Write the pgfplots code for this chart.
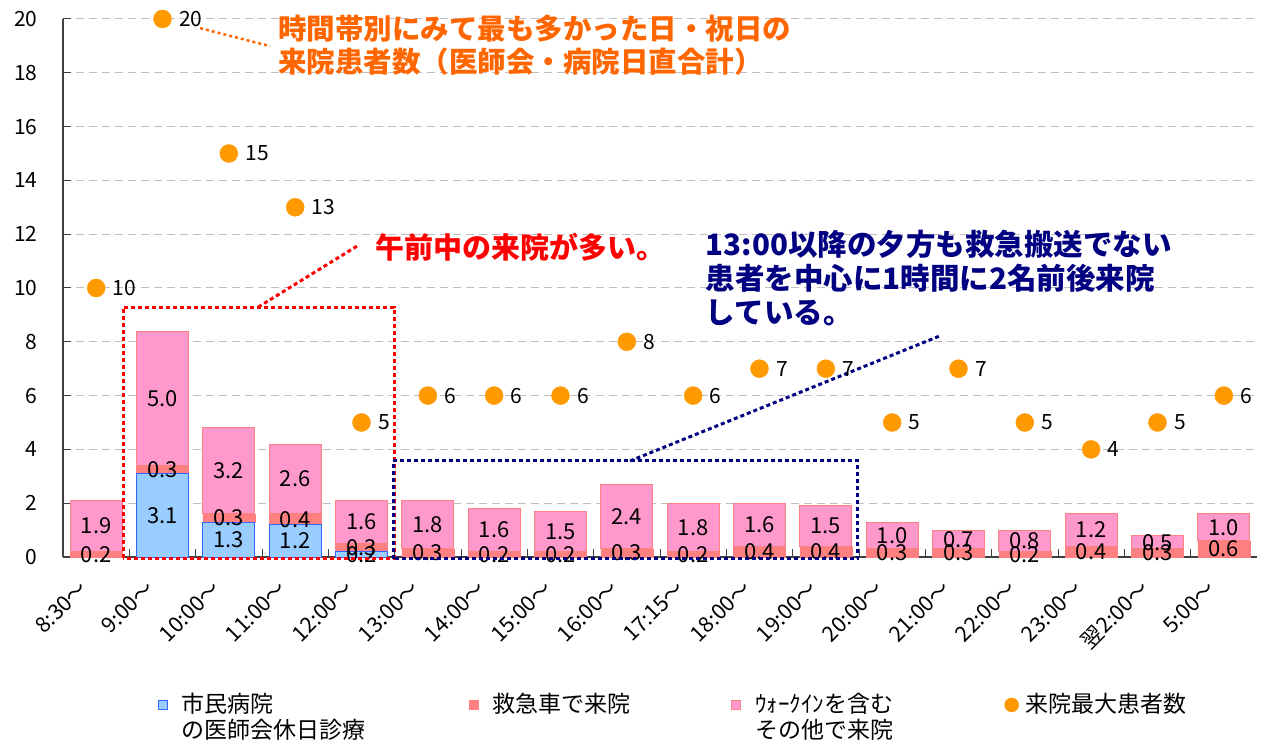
\documentclass[border=0pt]{standalone}
\usepackage{pgfplots}
\pgfplotsset{compat=1.18}
\usepackage{fontspec}
\setmainfont{Noto Sans CJK JP}
\definecolor{cblue}{HTML}{99CCFF}
\definecolor{cblueb}{HTML}{3366FF}
\definecolor{cred}{HTML}{FF8080}
\definecolor{cpink}{HTML}{FF99CC}
\definecolor{cpinkb}{HTML}{FF8080}
\definecolor{corange}{HTML}{FF9900}
\definecolor{ctor}{HTML}{FF6600}
\definecolor{cnavy}{HTML}{000080}
\definecolor{cgrid}{HTML}{BFBFBF}
\definecolor{caxis}{HTML}{404040}
\newcommand{\fs}[2]{\fontsize{#1bp}{#2bp}\selectfont}
\pgfplotsset{
  sqlegend/.style={legend image code/.code={\draw[##1,/tikz/.cd] (0bp,3bp) rectangle (9bp,12bp);}},
  dotlegend/.style={legend image code/.code={\path (0bp,3bp) rectangle (0bp,12bp); \fill[corange,overlay] (0bp,7.5bp) circle (7bp);}},
}
\begin{document}
\begin{tikzpicture}
\useasboundingbox (-63bp,-185bp) rectangle (1200bp,557bp);
\begin{axis}[
  at={(0bp,0bp)}, anchor=south west,
  scale only axis, width=1194bp, height=538bp,
  xmin=-0.5, xmax=17.5, ymin=0, ymax=20,
  ybar stacked, bar width=52bp,
  clip=false,
  axis x line*=bottom, axis y line*=left,
  axis line style={draw=caxis, line width=1.5bp},
  tick align=inside,
  xtick={0,...,17},
  xticklabels={8:30〜,9:00〜,10:00〜,11:00〜,12:00〜,13:00〜,14:00〜,15:00〜,16:00〜,17:15〜,18:00〜,19:00〜,20:00〜,21:00〜,22:00〜,23:00〜,翌2:00〜,5:00〜},
  major x tick style={draw=none},
  minor xtick={0.5,1.5,...,16.5},
  minor x tick style={draw=caxis, line width=1bp},
  minor tick length=8bp,
  major tick length=8bp,
  ytick={0,2,...,20},
  y tick style={draw=caxis, line width=1bp},
  ymajorgrids,
  major grid style={draw=cgrid, dash pattern=on 8bp off 5bp, line width=1bp},
  /pgf/number format/assume math mode=true,
  yticklabel style={font=\fs{21}{21}, xshift=-22bp},
  xticklabel style={font=\fs{21.5}{21.5}, anchor=east, xshift=-10bp, yshift=-25bp, rotate=45},
  point meta=explicit symbolic,
  nodes near coords,
  every node near coord/.append style={font=\fs{22}{22}, text=black, anchor=center},
  legend columns=4,
  legend style={at={(0,0)}, anchor=north west, xshift=95bp, yshift=-134bp,
    draw=none, fill=none, inner sep=0pt, outer sep=0pt, font=\fs{23}{26},
    cells={anchor=base west, inner sep=0pt},
    /tikz/every odd column/.append style={column sep=12bp}},
]
\addplot[fill=cblue, draw=cblueb, line width=1bp, sqlegend]
  coordinates {(0,0)[] (1,3.1)[3.1] (2,1.3)[1.3] (3,1.2)[1.2] (4,0.2)[0.2] (5,0)[] (6,0)[] (7,0)[] (8,0)[] (9,0)[] (10,0)[] (11,0)[] (12,0)[] (13,0)[] (14,0)[] (15,0)[] (16,0)[] (17,0)[]};
\addlegendentry{\parbox[t]{285bp}{市民病院\\の医師会休日診療}}
\addplot[fill=cred, draw=cred, line width=0.5bp, sqlegend]
  coordinates {(0,0.2)[0.2] (1,0.3)[0.3] (2,0.3)[0.3] (3,0.4)[0.4] (4,0.3)[0.3] (5,0.3)[0.3] (6,0.2)[0.2] (7,0.2)[0.2] (8,0.3)[0.3] (9,0.2)[0.2] (10,0.4)[0.4] (11,0.4)[0.4] (12,0.3)[0.3] (13,0.3)[0.3] (14,0.2)[0.2] (15,0.4)[0.4] (16,0.3)[0.3] (17,0.6)[0.6]};
\addlegendentry{\parbox[t]{237bp}{救急車で来院}}
\addplot[fill=cpink, draw=cpinkb, line width=1bp, sqlegend]
  coordinates {(0,1.9)[1.9] (1,5.0)[5.0] (2,3.2)[3.2] (3,2.6)[2.6] (4,1.6)[1.6] (5,1.8)[1.8] (6,1.6)[1.6] (7,1.5)[1.5] (8,2.4)[2.4] (9,1.8)[1.8] (10,1.6)[1.6] (11,1.5)[1.5] (12,1.0)[1.0] (13,0.7)[0.7] (14,0.8)[0.8] (15,1.2)[1.2] (16,0.5)[0.5] (17,1.0)[1.0]};
\addlegendentry{\parbox[t]{254bp}{ｳｫｰｸｲﾝを含む\\その他で来院}}
\addlegendimage{dotlegend}
\addlegendentry{\parbox[t]{170bp}{来院最大患者数}}
\end{axis}
\begin{axis}[
  at={(0bp,0bp)}, anchor=south west,
  scale only axis, width=1194bp, height=538bp,
  xmin=-0.5, xmax=17.5, ymin=0, ymax=20,
  hide axis, clip=false,
]
\draw[red, line width=3bp, dash pattern=on 4bp off 3bp] (axis cs:0.407,-0.04) rectangle (axis cs:4.492,9.29);
\draw[red, line width=3bp, dash pattern=on 4bp off 3bp] (axis cs:2.442,9.29) -- (axis cs:3.934,11.56);
\draw[cnavy, line width=3bp, dash pattern=on 4bp off 3bp] (axis cs:4.477,-0.07) rectangle (axis cs:11.484,3.57);
\draw[cnavy, line width=3bp, dash pattern=on 4bp off 3bp] (axis cs:8.048,3.57) -- (axis cs:12.72,8.22);
\draw[ctor, line width=2.5bp, dash pattern=on 3bp off 3bp] (axis cs:1.567,19.66) -- (axis cs:2.622,18.99);
\addplot[only marks, mark=*, mark size=9bp, color=corange,
  point meta=explicit symbolic, nodes near coords,
  every node near coord/.append style={anchor=west, xshift=13bp, text=black, font=\fs{21}{21}}]
  coordinates {(0,10)[10] (1,20)[20] (2,15)[15] (3,13)[13] (4,5)[5] (5,6)[6] (6,6)[6] (7,6)[6] (8,8)[8] (9,6)[6] (10,7)[7] (11,7)[7] (12,5)[5] (13,7)[7] (14,5)[5] (15,4)[4] (16,5)[5] (17,6)[6]};
\node[anchor=north west, inner sep=0pt, text=ctor, font=\bfseries\fs{28.5}{33}, align=left] at (axis cs:2.743,20.15) {時間帯別にみて最も多かった日・祝日の\\来院患者数（医師会・病院日直合計）};
\node[anchor=west, inner sep=0pt, text=red, font=\bfseries\fs{29}{29}] at (axis cs:4.205,11.52) {午前中の来院が多い。};
\node[anchor=north west, inner sep=0pt, text=cnavy, font=\bfseries\fs{29.5}{34}, align=left] at (axis cs:9.19,12.16) {13:00以降の夕方も救急搬送でない\\患者を中心に1時間に2名前後来院\\している。};
\end{axis}
\end{tikzpicture}
\end{document}
